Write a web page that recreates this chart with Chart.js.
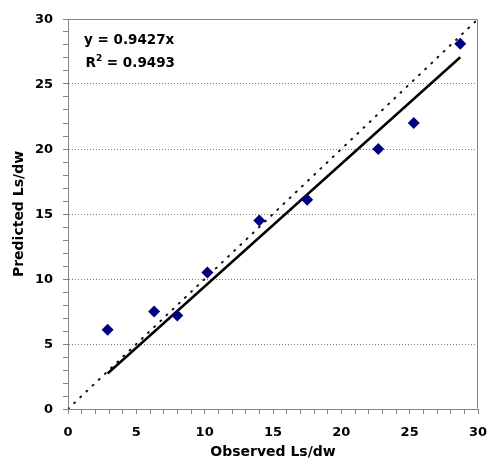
<!DOCTYPE html>
<html>
<head>
<meta charset="utf-8">
<script src="https://cdn.jsdelivr.net/npm/chart.js@4/dist/chart.umd.min.js"></script>
<style>
  html, body { margin: 0; padding: 0; background: #ffffff; }
  #wrap { position: relative; width: 489px; height: 468px; }
</style>
</head>
<body>
<div id="wrap"><canvas id="chart"></canvas></div>
<script>
// Observed vs. predicted Ls/dw
const observed  = [2.9, 6.3, 8.0, 10.2, 14.0, 17.5, 22.7, 25.3, 28.7];
const predicted = [6.1, 7.5, 7.2, 10.5, 14.5, 16.1, 20.0, 22.0, 28.1];

// Regression through the origin, as stated in the annotation
const slope = 0.9427;
const rSquared = 0.9493;

// Axis range and labelled tick interval
const axisMin = 0;
const axisMax = 30;
const labelStep = 5;

const FONT = '"DejaVu Sans", Arial, sans-serif';
const FRAME = '#858585';

const points = observed.map((x, i) => ({ x: x, y: predicted[i] }));
const xLo = Math.min(...observed);
const xHi = Math.max(...observed);
const fitLine = [{ x: xLo, y: slope * xLo }, { x: xHi, y: slope * xHi }];
const identityLine = [{ x: axisMin, y: axisMin }, { x: axisMax, y: axisMax }];

const labelEvery = v => (v % labelStep === 0 ? String(v) : '');

// Closes the plot box on the top and right sides
const frameBox = {
  id: 'frameBox',
  beforeDatasetsDraw(chart) {
    const { ctx, chartArea: a } = chart;
    ctx.save();
    ctx.strokeStyle = FRAME;
    ctx.lineWidth = 1;
    const l = Math.round(a.left) + 0.5, r = Math.round(a.right) - 0.5;
    const t = Math.round(a.top) + 0.5, b = Math.round(a.bottom) - 0.5;
    ctx.beginPath();
    ctx.moveTo(l, t); ctx.lineTo(r, t); ctx.lineTo(r, b);
    ctx.stroke();
    ctx.restore();
  }
};

// Equation and R² text in the upper-left corner of the plot
const fitLabel = {
  id: 'fitLabel',
  afterDraw(chart) {
    const { ctx, chartArea: a } = chart;
    const x0 = a.left + 16;
    ctx.save();
    ctx.fillStyle = '#000';
    ctx.textBaseline = 'alphabetic';
    ctx.textAlign = 'left';
    ctx.font = 'bold 13.5px ' + FONT;
    ctx.fillText('y = ' + slope + 'x', x0, a.top + 24.5);
    const y2 = a.top + 47.5;
    const xr = x0 + 1.5;
    ctx.fillText('R', xr, y2);
    const wR = ctx.measureText('R').width;
    ctx.font = 'bold 9px ' + FONT;
    ctx.fillText('2', xr + wR, y2 - 6);
    const w2 = ctx.measureText('2').width;
    ctx.font = 'bold 13.5px ' + FONT;
    ctx.fillText(' = ' + rSquared, xr + wR + w2, y2);
    ctx.restore();
  }
};

new Chart(document.getElementById('chart'), {
  type: 'scatter',
  data: {
    datasets: [
      {
        label: 'Ls/dw',
        data: points,
        pointStyle: 'rectRot',
        pointRadius: 6,
        pointHoverRadius: 6,
        backgroundColor: '#00007f',
        borderColor: '#00007f',
        borderWidth: 0,
        showLine: false
      },
      {
        label: 'Linear fit',
        data: fitLine,
        showLine: true,
        borderColor: '#000',
        borderWidth: 2.5,
        pointRadius: 0,
        fill: false
      },
      {
        label: '1:1',
        data: identityLine,
        showLine: true,
        borderColor: '#111',
        borderWidth: 2,
        borderDash: [1, 7.5],
        borderCapStyle: 'round',
        pointRadius: 0,
        fill: false
      }
    ]
  },
  options: {
    responsive: true,
    maintainAspectRatio: false,
    animation: false,
    devicePixelRatio: 1,
    layout: { padding: { left: 0, top: 19, right: 11, bottom: 0 } },
    plugins: {
      legend: { display: false },
      tooltip: { enabled: false },
      title: { display: false }
    },
    scales: {
      x: {
        type: 'linear',
        min: axisMin,
        max: axisMax,
        afterFit(s) { s.height = 59; s.paddingLeft = 0; s.paddingRight = 0; },
        ticks: {
          stepSize: 1,
          autoSkip: false,
          maxRotation: 0,
          padding: 11,
          color: '#000',
          font: { family: FONT, size: 13, weight: 'bold' },
          callback: labelEvery
        },
        grid: {
          drawOnChartArea: false,
          tickLength: 5,
          tickColor: FRAME,
          color: FRAME
        },
        border: { color: FRAME, width: 1 },
        title: {
          display: true,
          text: 'Observed Ls/dw',
          color: '#000',
          font: { family: FONT, size: 14, weight: 'bold' },
          padding: { top: 0, bottom: 7.6 }
        }
      },
      y: {
        type: 'linear',
        min: axisMin,
        max: axisMax,
        afterFit(s) { s.width = 68; s.paddingTop = 0; s.paddingBottom = 0; },
        ticks: {
          stepSize: 1,
          autoSkip: false,
          padding: 10,
          labelOffset: 1,
          color: '#000',
          font: { family: FONT, size: 13, weight: 'bold' },
          callback: labelEvery
        },
        grid: {
          drawOnChartArea: true,
          tickLength: 5,
          tickColor: FRAME,
          color: c => {
            const v = c.tick ? c.tick.value : null;
            return (v !== null && v % labelStep === 0 && v > axisMin && v < axisMax) ? '#7a7a7a' : 'rgba(0,0,0,0)';
          }
        },
        border: { color: FRAME, width: 1, dash: [1, 2] },
        title: {
          display: true,
          text: 'Predicted Ls/dw',
          color: '#000',
          font: { family: FONT, size: 14, weight: 'bold' },
          padding: { top: 11, bottom: 0 }
        }
      }
    }
  },
  plugins: [frameBox, fitLabel]
});
</script>
</body>
</html>
